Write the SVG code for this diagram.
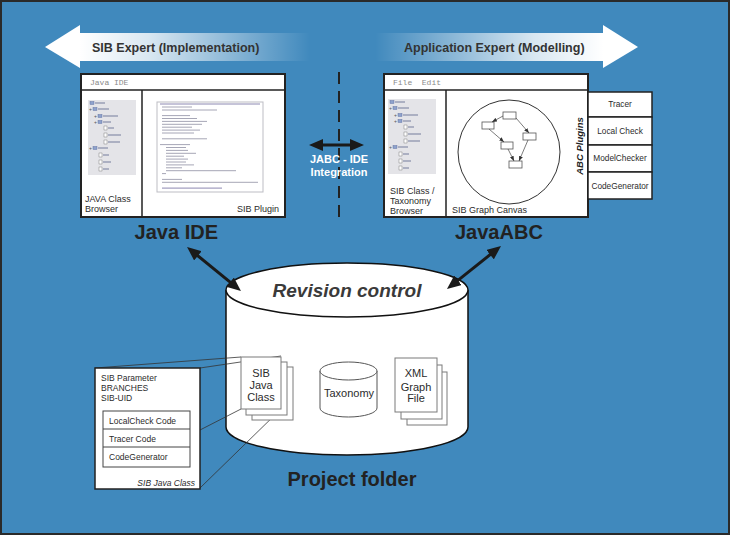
<svg xmlns="http://www.w3.org/2000/svg" width="730" height="535" viewBox="0 0 730 535">
<defs>
<style>
text{font-family:"Liberation Sans",Arial,sans-serif;fill:#2b2b2b}
.mono{font-family:"Liberation Mono","DejaVu Sans Mono",monospace;font-size:8px;fill:#8a8a8a}
.s8{font-size:8.3px}
.s85{font-size:8.5px}
.s9{font-size:9px}
.s11{font-size:11px}
.big{font-size:20px;font-weight:bold;fill:#222}
.hdr{font-size:12.5px;font-weight:bold;fill:#333}
.win{fill:#fff;stroke:#222;stroke-width:2}
.ln{stroke:#222;stroke-width:1.5;fill:none}
.pg{fill:#fff;stroke:#7a7a7a;stroke-width:1}
.box{fill:#fff;stroke:#222;stroke-width:1.5}
.code{stroke:#9c9cae;stroke-width:0.9}
.tl{stroke:#8d93ad;stroke-width:1.3}
.fo{fill:#8ea2cc;stroke:#55679a;stroke-width:0.4}
.dc{fill:#fff;stroke:#666;stroke-width:0.4}
.gb{fill:#fff;stroke:#555;stroke-width:0.8}
.ga{stroke:#444;stroke-width:0.7;fill:none}
.thick{stroke:#1a1a1a;stroke-width:3;fill:none}
</style>
<linearGradient id="gl" gradientUnits="userSpaceOnUse" x1="80" y1="0" x2="310" y2="0">
<stop offset="0" stop-color="#fff"/>
<stop offset="0.3" stop-color="#fff" stop-opacity="0.8"/>
<stop offset="1" stop-color="#fff" stop-opacity="0"/>
</linearGradient>
<linearGradient id="gr" gradientUnits="userSpaceOnUse" x1="375" y1="0" x2="603" y2="0">
<stop offset="0" stop-color="#fff" stop-opacity="0"/>
<stop offset="0.7" stop-color="#fff" stop-opacity="0.8"/>
<stop offset="1" stop-color="#fff"/>
</linearGradient>
<marker id="ah" markerUnits="userSpaceOnUse" markerWidth="14" markerHeight="12" viewBox="0 0 14 12" refX="4" refY="6" orient="auto-start-reverse">
<path d="M0,0 L14,6 L0,12 z" fill="#1a1a1a"/>
</marker>
<marker id="sa" markerUnits="userSpaceOnUse" markerWidth="5" markerHeight="4" viewBox="0 0 5 4" refX="5" refY="2" orient="auto">
<path d="M0,0 L5,2 L0,4 z" fill="#333"/>
</marker>
<g id="tree">
<rect x="0" y="0" width="48" height="75" fill="#e4e4e8"/>
<rect class="fo" x="2" y="1.5" width="4" height="3"/><line class="tl" x1="7" y1="3" x2="17" y2="3"/>
<text x="1" y="11" style="font-size:5px;fill:#555">+</text><rect class="fo" x="5" y="7.5" width="4" height="3"/><line class="tl" x1="10" y1="9" x2="21" y2="9"/>
<text x="6" y="18" style="font-size:5px;fill:#555">+</text><rect class="fo" x="10" y="14.5" width="4" height="3"/><line class="tl" x1="15" y1="16" x2="30" y2="16"/>
<text x="6" y="24" style="font-size:5px;fill:#555">+</text><rect class="fo" x="10" y="20.5" width="4" height="3"/><line class="tl" x1="15" y1="22" x2="23" y2="22"/>
<rect class="dc" x="16" y="26" width="3" height="4"/><line class="tl" x1="20" y1="28" x2="26" y2="28"/>
<rect class="dc" x="16" y="33" width="3" height="4"/><line class="tl" x1="20" y1="35" x2="33" y2="35"/>
<rect class="dc" x="16" y="40" width="3" height="4"/><line class="tl" x1="20" y1="42" x2="32" y2="42"/>
<text x="1" y="50" style="font-size:5px;fill:#555">+</text><rect class="fo" x="5" y="46.5" width="4" height="3"/><line class="tl" x1="10" y1="48" x2="20" y2="48"/>
<rect class="dc" x="11" y="53" width="3" height="4"/><line class="tl" x1="15" y1="55" x2="21" y2="55"/>
<rect class="dc" x="11" y="60" width="3" height="4"/><line class="tl" x1="15" y1="62" x2="23" y2="62"/>
<rect class="dc" x="11" y="67" width="3" height="4"/><line class="tl" x1="15" y1="69" x2="21" y2="69"/>
</g>
</defs>

<rect x="1" y="1" width="728" height="533" fill="#4089bd" stroke="#2a2a2a" stroke-width="2"/>

<g id="sib-expert-arrow">
<polygon points="45,47 80,25 80,33 310,33 310,61 80,61 80,68" fill="url(#gl)"/>
<text class="hdr" x="92" y="52">SIB Expert (Implementation)</text>
</g>
<g id="app-expert-arrow">
<polygon points="375,33 603,33 603,25 638,47 603,68 603,61 375,61" fill="url(#gr)"/>
<text class="hdr" x="404" y="52">Application Expert (Modelling)</text>
</g>

<g id="java-ide-window">
<rect class="win" x="81" y="74" width="204" height="143"/>
<line class="ln" x1="81" y1="90" x2="285" y2="90"/>
<line class="ln" x1="142" y1="90" x2="142" y2="217"/>
<text class="mono" x="90" y="85">Java IDE</text>
<use href="#tree" x="88" y="100"/>
<rect x="157" y="102" width="106" height="90" fill="#fff" stroke="#bdbdc4" stroke-width="1"/>
<g class="code">
<line x1="160" y1="104" x2="260" y2="104" stroke="#7f7aa8"/>
<line x1="162" y1="107" x2="192" y2="107"/>
<line x1="162" y1="110" x2="217" y2="110"/>
<line x1="162" y1="115.6" x2="190" y2="115.6"/>
<line x1="162" y1="118.5" x2="197" y2="118.5"/>
<line x1="162" y1="121.4" x2="207" y2="121.4"/>
<line x1="162" y1="124.3" x2="202" y2="124.3"/>
<line x1="162" y1="127.2" x2="192" y2="127.2"/>
<line x1="162" y1="130.1" x2="200" y2="130.1"/>
<line x1="162" y1="133" x2="194" y2="133"/>
<line x1="162" y1="138.8" x2="207" y2="138.8"/>
<line x1="160" y1="144.6" x2="190" y2="144.6"/>
<line x1="166" y1="147.5" x2="186" y2="147.5"/>
<line x1="166" y1="150.4" x2="188" y2="150.4"/>
<line x1="166" y1="153.3" x2="196" y2="153.3"/>
<line x1="166" y1="156.2" x2="184" y2="156.2"/>
<line x1="166" y1="159.1" x2="188" y2="159.1"/>
<line x1="166" y1="162" x2="186" y2="162"/>
<line x1="166" y1="164.9" x2="194" y2="164.9"/>
<line x1="166" y1="167.8" x2="182" y2="167.8"/>
<line x1="166" y1="170.7" x2="236" y2="170.7"/>
<line x1="162" y1="173.6" x2="166" y2="173.6"/>
<line x1="162" y1="179.4" x2="182" y2="179.4"/>
<line x1="162" y1="182.3" x2="258" y2="182.3"/>
<line x1="162" y1="188.1" x2="222" y2="188.1" stroke="#7f7aa8"/>
</g>
<text class="s9" x="85" y="202">JAVA Class</text>
<text class="s9" x="85" y="212">Browser</text>
<text class="s9" x="279" y="212" text-anchor="end">SIB Plugin</text>
</g>

<g id="javaabc-window">
<rect class="win" x="384" y="74" width="204" height="143"/>
<line class="ln" x1="384" y1="90" x2="588" y2="90"/>
<line class="ln" x1="446" y1="90" x2="446" y2="217"/>
<text class="mono" x="393" y="85" xml:space="preserve">File  Edit</text>
<use href="#tree" x="388" y="99"/>
<ellipse cx="509" cy="152" rx="51" ry="52" fill="#fff" stroke="#333" stroke-width="1"/>
<rect class="gb" x="503" y="112" width="13" height="7"/>
<rect class="gb" x="482" y="122" width="12" height="7"/>
<rect class="gb" x="523" y="133" width="13" height="7"/>
<rect class="gb" x="501" y="142" width="12" height="7"/>
<rect class="gb" x="509" y="161" width="13" height="7"/>
<line class="ga" x1="503" y1="116" x2="492" y2="122" marker-end="url(#sa)"/>
<line class="ga" x1="516" y1="118" x2="529" y2="133" marker-end="url(#sa)"/>
<line class="ga" x1="489" y1="129" x2="504" y2="142" marker-end="url(#sa)"/>
<line class="ga" x1="508" y1="149" x2="514" y2="161" marker-end="url(#sa)"/>
<line class="ga" x1="528" y1="140" x2="519" y2="161" marker-end="url(#sa)"/>
<text class="s9" x="390" y="194">SIB Class /</text>
<text class="s9" x="390" y="204">Taxonomy</text>
<text class="s9" x="390" y="214">Browser</text>
<text class="s9" x="452" y="213">SIB Graph Canvas</text>
<text x="583" y="146" transform="rotate(-90 583 146)" text-anchor="middle" style="font-size:9.5px;font-weight:bold;font-style:italic;fill:#222">ABC Plugins</text>
</g>

<g id="abc-plugins">
<rect class="box" x="588" y="92" width="64" height="25"/>
<rect class="box" x="588" y="117" width="64" height="28"/>
<rect class="box" x="588" y="145" width="64" height="27"/>
<rect class="box" x="588" y="172" width="64" height="27"/>
<text class="s8" x="620" y="107" text-anchor="middle">Tracer</text>
<text class="s8" x="620" y="134" text-anchor="middle">Local Check</text>
<text class="s8" x="620" y="161" text-anchor="middle">ModelChecker</text>
<text class="s8" x="620" y="189" text-anchor="middle">CodeGenerator</text>
</g>

<g id="labels">
<text class="big" x="218" y="239" text-anchor="end">Java IDE</text>
<text class="big" x="455" y="239">JavaABC</text>
</g>

<g id="repository">
<path d="M226,290 V427 A121,28 0 0 0 468,427 V290" fill="#fff" stroke="#111" stroke-width="1.5"/>
<ellipse cx="347" cy="290" rx="121" ry="27" fill="#fff" stroke="#111" stroke-width="1.5"/>
<text x="347" y="297" text-anchor="middle" style="font-size:19px;font-weight:bold;font-style:italic;fill:#3a3a3a">Revision control</text>
<text class="big" x="352" y="486" text-anchor="middle">Project folder</text>
</g>

<g id="taxonomy">
<path d="M320,371 V408 A28.5,9 0 0 0 377,408 V371" fill="#fff" stroke="#555" stroke-width="1"/>
<ellipse cx="348.5" cy="371" rx="28.5" ry="9" fill="#fff" stroke="#555" stroke-width="1"/>
<text class="s11" x="349" y="397" text-anchor="middle">Taxonomy</text>
</g>

<g id="xml-graph-file">
<rect class="pg" x="407" y="372" width="40" height="53"/>
<rect class="pg" x="401" y="365" width="41" height="54"/>
<rect class="pg" x="395" y="358" width="42" height="54"/>
<text class="s11" x="416" y="377" text-anchor="middle">XML</text>
<text class="s11" x="416" y="391" text-anchor="middle">Graph</text>
<text class="s11" x="416" y="402" text-anchor="middle">File</text>
</g>

<g id="connectors">
<line class="thick" x1="319" y1="145" x2="354" y2="145" marker-start="url(#ah)" marker-end="url(#ah)"/>
<line class="thick" x1="194.8" y1="253.3" x2="233.2" y2="284.7" marker-start="url(#ah)" marker-end="url(#ah)"/>
<line class="thick" x1="493.2" y1="252.2" x2="454.8" y2="282.8" marker-start="url(#ah)" marker-end="url(#ah)"/>
<g stroke="#333" stroke-width="0.8">
<line x1="95" y1="368" x2="241" y2="357"/>
<line x1="200" y1="368" x2="281" y2="356"/>
<line x1="200" y1="430" x2="241" y2="409"/>
<line x1="200" y1="488" x2="281" y2="409"/>
</g>
</g>

<g id="integration">
<line x1="339" y1="72" x2="339" y2="220" stroke="#222" stroke-width="2" stroke-dasharray="12,7"/>
<text x="339" y="163" text-anchor="middle" style="font-size:11px;font-weight:bold;fill:#fff">JABC - IDE</text>
<text x="339" y="176" text-anchor="middle" style="font-size:11px;font-weight:bold;fill:#fff">Integration</text>
</g>

<g id="sib-java-class">
<rect class="pg" x="252" y="367" width="41" height="53"/>
<rect class="pg" x="246" y="362" width="41" height="53"/>
<rect class="pg" x="241" y="357" width="40" height="52"/>
<text class="s11" x="261" y="377" text-anchor="middle">SIB</text>
<text class="s11" x="261" y="389" text-anchor="middle">Java</text>
<text class="s11" x="261" y="401" text-anchor="middle">Class</text>
</g>

<g id="sib-java-class-detail">
<rect class="box" x="95" y="368" width="105" height="121"/>
<text class="s85" x="101" y="381">SIB Parameter</text>
<text class="s85" x="101" y="391">BRANCHES</text>
<text class="s85" x="101" y="401">SIB-UID</text>
<rect x="103" y="411" width="87" height="56" fill="#fff" stroke="#444" stroke-width="1"/>
<line x1="103" y1="429" x2="190" y2="429" stroke="#444" stroke-width="1"/>
<line x1="103" y1="447" x2="190" y2="447" stroke="#444" stroke-width="1"/>
<text class="s85" x="109" y="424">LocalCheck Code</text>
<text class="s85" x="109" y="442">Tracer Code</text>
<text class="s85" x="109" y="460">CodeGenerator</text>
<text class="s85" x="195" y="486" text-anchor="end" font-style="italic">SIB Java Class</text>
</g>
</svg>
